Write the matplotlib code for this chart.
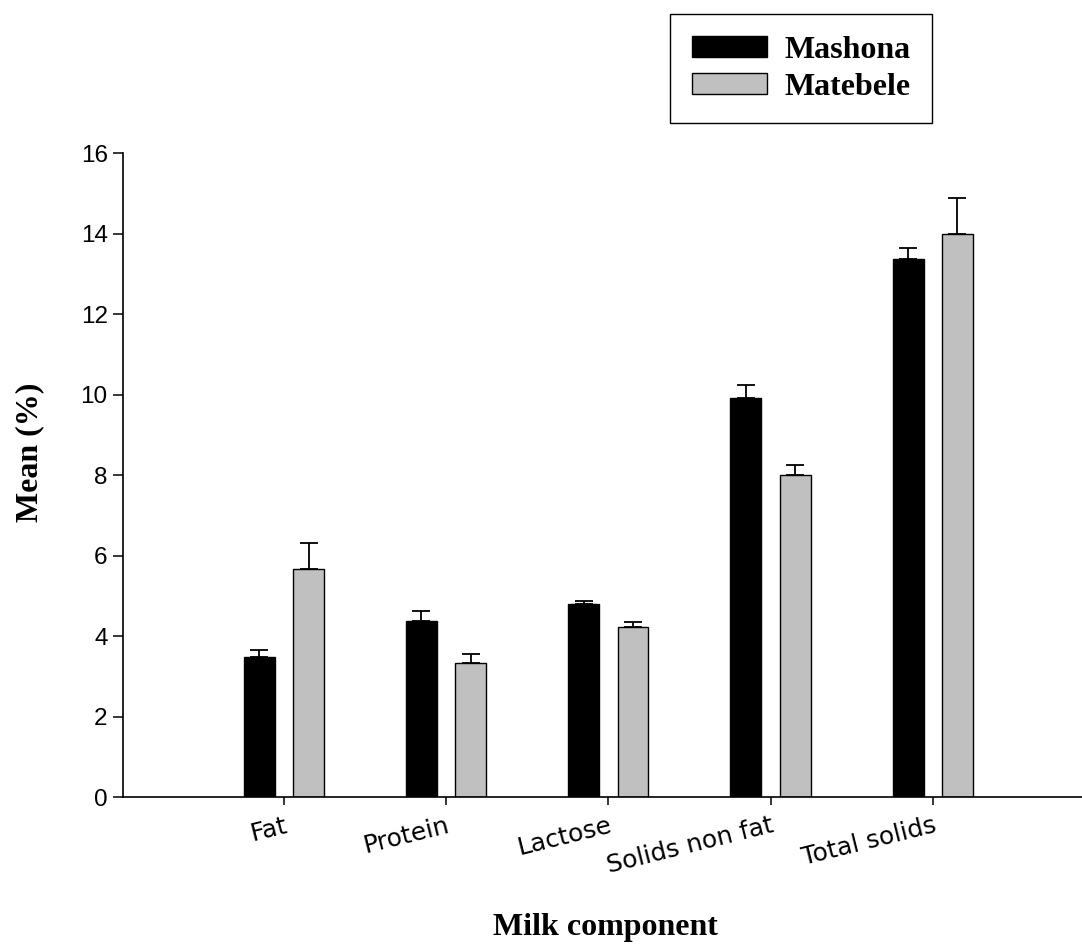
import numpy as np
import matplotlib
matplotlib.use('Agg')
import matplotlib.pyplot as plt

# Milk composition by breed (mean %, upper SE bars)
components = ['Fat', 'Protein', 'Lactose', 'Solids non fat', 'Total solids']
mashona = [3.48, 4.37, 4.80, 9.92, 13.37]
mashona_err = [0.17, 0.24, 0.06, 0.31, 0.28]
matebele = [5.67, 3.33, 4.23, 7.99, 14.00]
matebele_err = [0.64, 0.22, 0.11, 0.27, 0.88]

fig = plt.figure(figsize=(10.82, 9.44), dpi=100)
ax = fig.add_axes([0.1137, 0.1557, 0.8863, 0.6822])

x = np.arange(len(components))
width = 0.19
offset = 0.152

zeros = np.zeros(len(components))
ax.bar(x - offset, mashona, width, color='black', edgecolor='black',
       linewidth=1.0, label='Mashona',
       yerr=[zeros, mashona_err], capsize=6.8,
       error_kw=dict(elinewidth=1.3, capthick=1.3, ecolor='black'))
ax.bar(x + offset, matebele, width, color='#c0c0c0', edgecolor='black',
       linewidth=1.0, label='Matebele',
       yerr=[zeros, matebele_err], capsize=6.8,
       error_kw=dict(elinewidth=1.3, capthick=1.3, ecolor='black'))

ax.set_xlim(-0.992, 4.92)
ax.set_ylim(0, 16)
ax.set_yticks(np.arange(0, 17, 2))
ax.set_xticks(x)
# tick text in the original is letter-spaced Arial; DejaVu gets the widths close
ax.set_xticklabels(components, rotation=14, ha='right', rotation_mode='anchor',
                   fontsize=18, family='DejaVu Sans')
for lbl in ax.get_yticklabels():
    lbl.set_fontsize(17.5)
    lbl.set_family('Liberation Sans')

for side in ['top', 'right']:
    ax.spines[side].set_visible(False)
for side in ['left', 'bottom']:
    ax.spines[side].set_linewidth(1.2)
ax.tick_params(axis='y', direction='out', length=7, width=1.1, pad=4)
ax.tick_params(axis='x', direction='out', length=6, width=1.1, pad=6)

ax.set_ylabel('Mean (%)', fontsize=23, fontweight='bold', family='Liberation Serif')
ax.yaxis.set_label_coords(-0.082, 0.536)
ax.set_xlabel('Milk component', fontsize=23, fontweight='bold', family='Liberation Serif')
ax.xaxis.set_label_coords(0.5026, -0.18)

leg = ax.legend(loc='upper left', bbox_to_anchor=(670 / 1082, 1 - 14 / 944),
                bbox_transform=fig.transFigure, frameon=True, fancybox=False,
                edgecolor='black', framealpha=1, borderaxespad=0,
                prop={'family': 'Liberation Serif', 'weight': 'bold', 'size': 23},
                handlelength=2.35, handleheight=0.6, handletextpad=0.55,
                labelspacing=0.25, borderpad=0.68)
leg.get_frame().set_linewidth(1.0)

fig.savefig('out.png', dpi=100)
